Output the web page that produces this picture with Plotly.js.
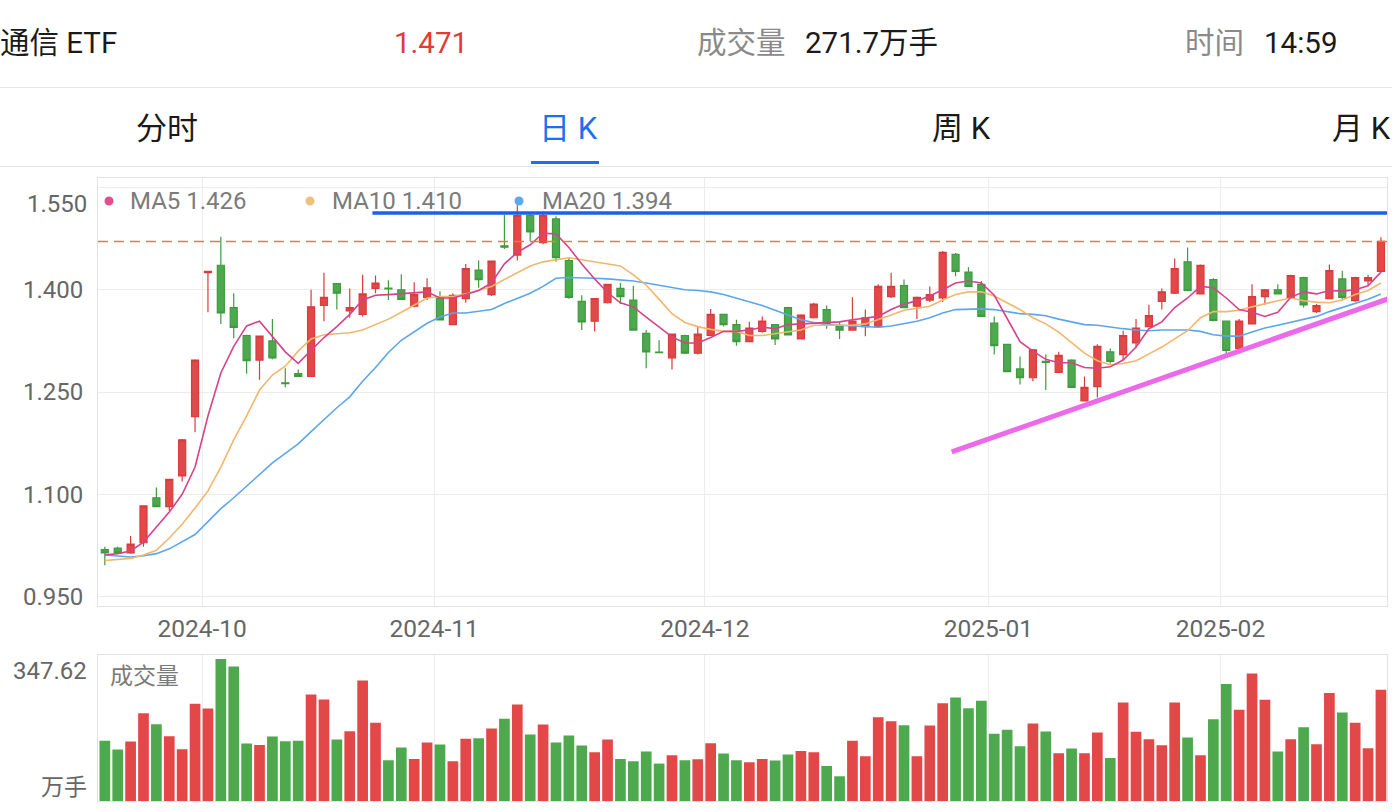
<!DOCTYPE html>
<html>
<head>
<meta charset="utf-8">
<script src="https://cdn.plot.ly/plotly-3.0.1.min.js"></script>
<style>
html,body{margin:0;padding:0;background:#fff;width:1392px;height:812px;overflow:hidden;}
#chart{position:absolute;left:0;top:0;width:1392px;height:812px;}
.t{position:absolute;height:40px;line-height:40px;font-family:Roboto,"Noto Sans CJK SC",sans-serif;font-size:29.5px;white-space:nowrap;color:#1a1a1a;z-index:5;}
.g{color:#8a8a8a;}
.hr{position:absolute;left:0;width:1392px;height:1px;background:#e6e6e6;z-index:5;}
</style>
</head>
<body>
<div id="chart"></div>
<div id="header"></div>
<script>
// ---------- header texts ----------
const stockName = "通信 ETF";
const lastPriceText = "1.471";
const volLabel = "成交量";
const volText = "271.7万手";
const timeLabel = "时间";
const timeText = "14:59";
const tabs = ["分时", "日 K", "周 K", "月 K"];

// ---------- data ----------
const dates = [
 "2024-09-19","2024-09-20","2024-09-23","2024-09-24","2024-09-25","2024-09-26","2024-09-27","2024-09-30",
 "2024-10-08","2024-10-09","2024-10-10","2024-10-11","2024-10-14","2024-10-15","2024-10-16","2024-10-17","2024-10-18",
 "2024-10-21","2024-10-22","2024-10-23","2024-10-24","2024-10-25","2024-10-28","2024-10-29","2024-10-30","2024-10-31",
 "2024-11-01","2024-11-04","2024-11-05","2024-11-06","2024-11-07","2024-11-08","2024-11-11","2024-11-12","2024-11-13",
 "2024-11-14","2024-11-15","2024-11-18","2024-11-19","2024-11-20","2024-11-21","2024-11-22","2024-11-25","2024-11-26",
 "2024-11-27","2024-11-28","2024-11-29",
 "2024-12-02","2024-12-03","2024-12-04","2024-12-05","2024-12-06","2024-12-09","2024-12-10","2024-12-11","2024-12-12",
 "2024-12-13","2024-12-16","2024-12-17","2024-12-18","2024-12-19","2024-12-20","2024-12-23","2024-12-24","2024-12-25",
 "2024-12-26","2024-12-27","2024-12-30","2024-12-31",
 "2025-01-02","2025-01-03","2025-01-06","2025-01-07","2025-01-08","2025-01-09","2025-01-10","2025-01-13","2025-01-14",
 "2025-01-15","2025-01-16","2025-01-17","2025-01-20","2025-01-21","2025-01-22","2025-01-23","2025-01-24","2025-01-27",
 "2025-02-05","2025-02-06","2025-02-07","2025-02-10","2025-02-11","2025-02-12","2025-02-13","2025-02-14","2025-02-17",
 "2025-02-18","2025-02-19","2025-02-20","2025-02-21"
];
const openP = [
 1.019,1.021,1.014,1.029,1.095,1.082,1.127,1.214,1.425,1.436,
 1.374,1.333,1.297,1.325,1.2635,1.277,1.273,1.377,1.409,1.369,
 1.364,1.402,1.4025,1.400,1.376,1.389,1.388,1.349,1.387,1.429,
 1.393,1.4645,1.451,1.509,1.469,1.504,1.443,1.383,1.354,1.381,
 1.402,1.385,1.336,1.3088,1.300,1.333,1.307,1.333,1.364,1.349,
 1.324,1.339,1.349,1.374,1.328,1.359,1.371,1.346,1.341,1.346,
 1.346,1.390,1.406,1.376,1.385,1.388,1.452,1.426,1.408,1.351,
 1.320,1.284,1.271,1.295,1.279,1.297,1.237,1.258,1.309,1.305,
 1.322,1.346,1.383,1.395,1.441,1.394,1.415,1.354,1.314,1.350,
 1.390,1.400,1.389,1.418,1.368,1.387,1.416,1.384,1.413,1.427
];
const highP = [
 1.023,1.023,1.039,1.084,1.110,1.123,1.181,1.298,1.428,1.478,
 1.395,1.334,1.333,1.357,1.285,1.283,1.400,1.425,1.410,1.402,
 1.422,1.421,1.414,1.423,1.411,1.417,1.398,1.395,1.438,1.443,
 1.443,1.510,1.524,1.512,1.515,1.508,1.447,1.392,1.388,1.409,
 1.410,1.406,1.341,1.326,1.336,1.334,1.346,1.372,1.365,1.356,
 1.353,1.361,1.350,1.375,1.364,1.381,1.377,1.354,1.389,1.371,
 1.408,1.425,1.415,1.390,1.405,1.457,1.454,1.433,1.413,1.361,
 1.321,1.302,1.313,1.305,1.309,1.298,1.273,1.320,1.314,1.340,
 1.357,1.378,1.402,1.446,1.462,1.437,1.417,1.355,1.357,1.408,
 1.401,1.408,1.422,1.419,1.379,1.437,1.428,1.419,1.422,1.477
];
const lowP = [
 0.996,1.013,1.013,1.023,1.081,1.076,1.119,1.191,1.367,1.350,
 1.329,1.277,1.268,1.298,1.257,1.272,1.272,1.354,1.371,1.359,
 1.361,1.395,1.385,1.385,1.374,1.385,1.355,1.348,1.381,1.403,
 1.391,1.460,1.443,1.471,1.467,1.441,1.387,1.341,1.339,1.380,
 1.379,1.340,1.285,1.307,1.283,1.306,1.305,1.332,1.346,1.318,
 1.323,1.337,1.319,1.333,1.327,1.358,1.343,1.328,1.340,1.332,
 1.345,1.388,1.373,1.357,1.382,1.382,1.420,1.404,1.360,1.305,
 1.279,1.261,1.266,1.253,1.278,1.256,1.236,1.242,1.292,1.297,
 1.315,1.345,1.371,1.394,1.398,1.393,1.354,1.306,1.313,1.349,
 1.378,1.393,1.388,1.374,1.366,1.386,1.385,1.382,1.407,1.425
];
const closeP = [
 1.014,1.014,1.027,1.083,1.082,1.122,1.180,1.297,1.427,1.366,
 1.345,1.296,1.332,1.300,1.2625,1.273,1.375,1.389,1.395,1.374,
 1.394,1.410,1.4015,1.386,1.393,1.403,1.356,1.392,1.431,1.415,
 1.442,1.4625,1.509,1.485,1.509,1.447,1.389,1.353,1.387,1.408,
 1.390,1.341,1.309,1.3080,1.335,1.307,1.335,1.364,1.349,1.324,
 1.344,1.354,1.328,1.334,1.363,1.379,1.350,1.341,1.354,1.359,
 1.405,1.405,1.374,1.389,1.393,1.455,1.427,1.405,1.361,1.318,
 1.280,1.271,1.312,1.2935,1.304,1.257,1.257,1.317,1.295,1.333,
 1.344,1.362,1.397,1.431,1.399,1.436,1.355,1.311,1.354,1.390,
 1.400,1.394,1.421,1.378,1.377,1.428,1.389,1.418,1.418,1.471
];
const ma5 = [
 1.011,1.013,1.017,1.030,1.052,1.074,1.100,1.140,1.215,1.278,
 1.317,1.347,1.354,1.332,1.309,1.292,1.311,1.330,1.346,1.364,
 1.385,1.392,1.393,1.394,1.395,1.397,1.388,1.388,1.393,1.399,
 1.410,1.438,1.455,1.466,1.483,1.482,1.462,1.438,1.416,1.396,
 1.381,1.375,1.360,1.345,1.331,1.322,1.322,1.330,1.339,1.339,
 1.341,1.345,1.343,1.349,1.350,1.351,1.351,1.353,1.356,1.358,
 1.361,1.371,1.379,1.384,1.391,1.400,1.410,1.413,1.410,1.392,
 1.358,1.324,1.310,1.298,1.293,1.293,1.286,1.285,1.287,1.297,
 1.316,1.343,1.353,1.374,1.388,1.405,1.403,1.388,1.371,1.367,
 1.361,1.367,1.389,1.397,1.394,1.399,1.398,1.400,1.406,1.426
];
const ma10 = [
 1.003,1.004,1.006,1.011,1.018,1.036,1.056,1.080,1.105,1.140,
 1.180,1.215,1.253,1.275,1.288,1.310,1.328,1.334,1.335,1.337,
 1.341,1.349,1.357,1.367,1.378,1.388,1.390,1.390,1.394,1.399,
 1.405,1.415,1.425,1.435,1.441,1.444,1.447,1.444,1.441,1.439,
 1.435,1.422,1.407,1.386,1.365,1.352,1.346,1.342,1.339,1.339,
 1.333,1.333,1.336,1.339,1.341,1.348,1.348,1.348,1.348,1.350,
 1.356,1.363,1.370,1.373,1.376,1.385,1.393,1.397,1.397,1.391,
 1.381,1.371,1.359,1.350,1.338,1.323,1.307,1.296,1.290,1.292,
 1.296,1.306,1.316,1.328,1.340,1.359,1.368,1.368,1.370,1.375,
 1.380,1.384,1.388,1.384,1.382,1.381,1.385,1.393,1.399,1.410
];
const ma20 = [
 1.011,1.009,1.008,1.010,1.013,1.020,1.030,1.041,1.060,1.079,
 1.095,1.112,1.130,1.146,1.160,1.174,1.192,1.210,1.227,1.243,
 1.266,1.286,1.308,1.326,1.339,1.351,1.360,1.366,1.366,1.368,
 1.371,1.380,1.387,1.395,1.405,1.417,1.418,1.418,1.417,1.416,
 1.415,1.413,1.410,1.407,1.404,1.400,1.399,1.397,1.393,1.388,
 1.383,1.377,1.370,1.363,1.356,1.352,1.349,1.348,1.347,1.345,
 1.345,1.347,1.350,1.354,1.359,1.366,1.371,1.372,1.372,1.371,
 1.368,1.365,1.364,1.362,1.357,1.353,1.349,1.348,1.345,1.343,
 1.341,1.340,1.341,1.341,1.341,1.339,1.334,1.332,1.332,1.338,
 1.344,1.348,1.352,1.357,1.361,1.368,1.374,1.380,1.386,1.394
];
const volume = [
 147.2,125.9,145.5,215.1,188.1,158.6,126.7,238.0,226.5,347.62,
 329.5,140.6,137.4,157.8,146.4,147.2,260.8,248.6,150.5,170.9,
 295.2,191.3,99.8,130.8,103.0,143.1,138.2,97.3,152.1,153.7,
 177.4,201.2,236.3,162.7,187.3,143.1,160.3,135.7,119.4,150.5,
 103.0,97.3,121.0,91.6,112.0,99.8,102.2,141.5,116.1,99.8,
 94.9,103.0,98.9,113.7,122.7,119.4,85.9,60.5,147.2,109.6,
 205.2,195.4,185.6,109.6,184.8,239.6,253.5,227.3,245.3,164.4,
 174.2,134.1,189.7,170.1,116.9,128.4,116.9,167.6,105.5,241.2,
 169.3,151.3,136.6,241.2,155.4,112.0,200.3,286.2,223.2,312.4,
 247.8,121.0,151.3,180.7,139.0,264.1,216.7,191.3,129.2,272.1
];
const yTickVals = [0.95, 1.10, 1.25, 1.40, 1.55];
const lastPrice = 1.471;

// ---------- header (HTML) ----------
const H = document.getElementById('header');
function addText(txt, left, cy, cls, color, size){
  const d = document.createElement('div');
  d.className = 't ' + (cls||'');
  d.textContent = txt;
  d.style.left = left + 'px';
  d.style.top = (cy - 20) + 'px';
  if (color) d.style.color = color;
  if (size) d.style.fontSize = size + 'px';
  H.appendChild(d);
}
addText(stockName, 0, 43);
addText(lastPriceText, 394, 43, '', '#e03b3b');
addText(volLabel, 697, 43, 'g');
addText(volText, 805, 43);
addText(timeLabel, 1185, 43, 'g');
addText(timeText, 1264, 43);
const tabLeft = [136, 539, 932, 1332];
tabs.forEach((t,i)=>addText(t, tabLeft[i], 129, '', i===1 ? '#1d6ff0' : '#1a1a1a', 31));
function addRule(top, left, width, height, color){
  const d = document.createElement('div');
  d.className = 'hr';
  d.style.top = top + 'px'; d.style.left = left + 'px';
  d.style.width = width + 'px'; d.style.height = height + 'px';
  d.style.background = color;
  H.appendChild(d);
}
addRule(87, 0, 1392, 1, '#e6e6e6');
addRule(166, 0, 1392, 1, '#e6e6e6');
addRule(161, 531, 68, 3, '#1d6ff0');

// ---------- chart ----------
const idx = dates.map((d,i)=>i);
const tickVals = [], tickText = [];
for (let i = 1; i < dates.length; i++) {
  if (dates[i].slice(0,7) !== dates[i-1].slice(0,7)) {
    tickVals.push(i - 0.45);
    tickText.push(dates[i].slice(0,7));
  }
}
const RED = '#e24848', RED_L = '#d83c3c';
const GREEN = '#4ea84e', GREEN_L = '#3f9a3f';
const volColors = closeP.map((c,i)=> c >= openP[i] ? RED : GREEN);

const FONT = 'Roboto, "Noto Sans CJK SC", sans-serif';
const xRange = [-0.53, 99.47];
const L = 98, R = 1387, T = 178, B = 801;
const px = v => (v - L) / (R - L);
const py = v => (B - v) / (B - T);

const traces = [
  {type:'candlestick', x: idx, open: openP, high: highP, low: lowP, close: closeP,
   xaxis:'x', yaxis:'y', whiskerwidth: 0, hoverinfo:'skip',
   increasing:{line:{color:RED_L, width:1.2}, fillcolor:RED},
   decreasing:{line:{color:GREEN_L, width:1.2}, fillcolor:GREEN}},
  {type:'scatter', mode:'lines', x: idx, y: ma20, xaxis:'x', yaxis:'y', line:{color:'#5aa7ee', width:1.6}, hoverinfo:'skip'},
  {type:'scatter', mode:'lines', x: idx, y: ma10, xaxis:'x', yaxis:'y', line:{color:'#f2b66c', width:1.6}, hoverinfo:'skip'},
  {type:'scatter', mode:'lines', x: idx, y: ma5, xaxis:'x', yaxis:'y', line:{color:'#d6428c', width:1.6}, hoverinfo:'skip'},
  {type:'bar', x: idx, y: volume, xaxis:'x2', yaxis:'y2', marker:{color: volColors, line:{width:0}}, hoverinfo:'skip'}
];

const axisCommon = {showgrid:true, gridcolor:'#ececec', gridwidth:1, zeroline:false,
  showline:true, mirror:true, linecolor:'#e2e2e2', linewidth:1, ticks:''};

const legendItems = [
  {label:'MA5', val: ma5[ma5.length-1], color:'#e0508f', dot:109, text:128},
  {label:'MA10', val: ma10[ma10.length-1], color:'#f2be7c', dot:310, text:330},
  {label:'MA20', val: ma20[ma20.length-1], color:'#5aaaf0', dot:519, text:540}
];

const annotations = [];
const shapes = [];
legendItems.forEach(it=>{
  annotations.push({xref:'paper', yref:'paper', x:px(it.text), y:py(201), xanchor:'left', yanchor:'middle',
    text: it.label + ' ' + it.val.toFixed(3), showarrow:false, font:{family:FONT, size:24, color:'#7b7b7b'}});
  shapes.push({type:'circle', xref:'paper', yref:'paper', xsizemode:'pixel', ysizemode:'pixel',
    xanchor: px(it.dot), yanchor: py(201), x0:-4.5, x1:4.5, y0:-4.5, y1:4.5,
    fillcolor: it.color, line:{width:0}});
});
// top tick label drawn inside the frame
annotations.push({xref:'paper', yref:'y', x:0, y:1.55, xanchor:'right', yanchor:'middle', xshift:-9, yshift:-16,
  text:'1.550', showarrow:false, font:{family:FONT, size:24, color:'#666'}});
// volume panel labels
annotations.push({xref:'paper', yref:'paper', x:0, y:py(671), xanchor:'right', yanchor:'middle', xshift:-9,
  text: Math.max(...volume).toFixed(2), showarrow:false, font:{family:FONT, size:24, color:'#666'}});
annotations.push({xref:'paper', yref:'paper', x:0, y:py(787), xanchor:'right', yanchor:'middle', xshift:-9,
  text:'万手', showarrow:false, font:{family:FONT, size:23, color:'#666'}});
annotations.push({xref:'paper', yref:'paper', x:px(108), y:py(676), xanchor:'left', yanchor:'middle',
  text:'成交量', showarrow:false, font:{family:FONT, size:23, color:'#7b7b7b'}});

// current price dashed line
shapes.push({type:'line', xref:'paper', yref:'y', x0:0, x1:1, y0:lastPrice, y1:lastPrice,
  line:{color:'#ee7a2a', width:1.5, dash:'10px,6px'}});
// hand drawn resistance (blue) and support (violet) lines
shapes.push({type:'line', xref:'x', yref:'y', x0:20.76, x1:100.5, y0:1.5126, y1:1.5126,
  line:{color:'#1f5fe6', width:3.5}});
shapes.push({type:'line', xref:'x', yref:'y', x0:65.7, y0:1.1622, x1:99.85, y1:1.3887,
  line:{color:'#ea6aea', width:5}});

const layout = {
  width:1392, height:812,
  margin:{l:L, r:1392-R, t:T, b:812-B, pad:0},
  paper_bgcolor:'#ffffff', plot_bgcolor:'#ffffff',
  showlegend:false, hovermode:false,
  boxgap:0.22, bargap:0.17,
  font:{family:FONT, size:24, color:'#666'},
  xaxis: Object.assign({}, axisCommon, {domain:[0,1], range:xRange, anchor:'y',
    tickmode:'array', tickvals:tickVals, ticktext:tickText, tickfont:{family:FONT, size:24.5, color:'#666'},
    ticklabelstandoff:1, rangeslider:{visible:false}}),
  yaxis: Object.assign({}, axisCommon, {domain:[py(606),1], range:[0.9362, 1.564], anchor:'x',
    tickmode:'array', tickvals:yTickVals, ticktext:yTickVals.map(v=> v===1.55 ? '' : v.toFixed(3)),
    tickfont:{family:FONT, size:24, color:'#666'}, ticklabelstandoff:9}),
  xaxis2: Object.assign({}, axisCommon, {domain:[0,1], range:xRange, anchor:'y2', matches:'x',
    tickmode:'array', tickvals:tickVals, showticklabels:false}),
  yaxis2: Object.assign({}, axisCommon, {domain:[0, py(655.3)], range:[0, 356.7], anchor:'x2',
    showgrid:false, showticklabels:false}),
  annotations, shapes
};

Plotly.newPlot('chart', traces, layout, {staticPlot:true, displayModeBar:false});
</script>
</body>
</html>
